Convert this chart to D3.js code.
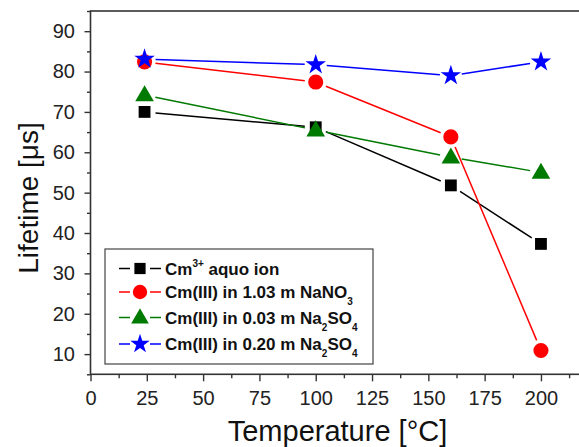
<!DOCTYPE html>
<html><head><meta charset="utf-8">
<script src="https://cdn.jsdelivr.net/npm/d3@7"></script>
<style>body{margin:0;background:#fff}svg{display:block}text{font-family:Arial,"Liberation Sans",sans-serif}</style>
</head><body><svg id="c" width="579" height="447"></svg>
<script>
const temps = [24, 100, 160, 200];
const aquo = [70.0, 66.2, 51.8, 37.3];
const nano3 = [82.4, 77.4, 63.8, 10.9];
const na2so4_003 = [74.2, 65.5, 58.8, 55.0];
const na2so4_020 = [83.1, 81.7, 79.0, 82.4];
const xTicks = [0, 25, 50, 75, 100, 125, 150, 175, 200];
const yTicks = [10, 20, 30, 40, 50, 60, 70, 80, 90];

const svg = d3.select("#c");
const x = d3.scaleLinear().domain([0, 220]).range([90.5, 586]);
const y = d3.scaleLinear().domain([5, 95]).range([374.3, 11]);

const series = [
  {vals: aquo, color: "#000000", sym: d3.symbolSquare, size: 140},
  {vals: nano3, color: "#ff0000", sym: d3.symbolCircle, size: 180},
  {vals: na2so4_003, color: "#007a00", sym: d3.symbolTriangle, size: 150},
  {vals: na2so4_020, color: "#0000ff", sym: d3.symbolStar, size: 130}
];

// frame
svg.append("rect").attr("x", x(0)).attr("y", y(95)).attr("width", x(220) - x(0)).attr("height", y(5) - y(95))
  .attr("fill", "none").attr("stroke", "#333").attr("stroke-width", 1.6);

// axes
const xAx = svg.append("g").attr("transform", `translate(0,${y(5)})`)
  .call(d3.axisBottom(x).tickValues(xTicks).tickSize(7).tickPadding(10).tickFormat(d3.format("d")));
const xMinor = svg.append("g").attr("transform", `translate(0,${y(5)})`)
  .call(d3.axisBottom(x).tickValues(d3.range(12.5, 220, 25)).tickSize(4).tickFormat(""));
const yAx = svg.append("g").attr("transform", `translate(${x(0)},0)`)
  .call(d3.axisLeft(y).tickValues(yTicks).tickSize(6).tickPadding(9.5).tickFormat(d3.format("d")));
const yMinor = svg.append("g").attr("transform", `translate(${x(0)},0)`)
  .call(d3.axisLeft(y).tickValues(d3.range(5, 95.1, 10)).tickSize(3.5).tickFormat(""));
[xAx, xMinor, yAx, yMinor].forEach(g => {
  g.select(".domain").remove();
  g.selectAll("line").attr("stroke", "#333").attr("stroke-width", 1.4);
  g.selectAll("text").attr("font-size", 20).attr("fill", "#222");
});

// axis titles
svg.append("text").attr("x", 337.5).attr("y", 441).attr("text-anchor", "middle")
  .attr("font-size", 29).attr("fill", "#111").text("Temperature [°C]");
svg.append("text").attr("transform", "translate(37.5,198) rotate(-90)").attr("text-anchor", "middle")
  .attr("font-size", 28).attr("fill", "#111").text("Lifetime [μs]");

// lines with gaps
const gap = 11;
series.forEach(s => {
  const pts = temps.map((t, i) => [x(t), y(s.vals[i])]);
  for (let i = 0; i < pts.length - 1; i++) {
    const [x1, y1] = pts[i], [x2, y2] = pts[i + 1];
    const dx = x2 - x1, dy = y2 - y1, L = Math.hypot(dx, dy);
    if (L <= 2 * gap) continue;
    const ux = dx / L, uy = dy / L;
    svg.append("line").attr("x1", x1 + ux * gap).attr("y1", y1 + uy * gap)
      .attr("x2", x2 - ux * gap).attr("y2", y2 - uy * gap)
      .attr("stroke", s.color).attr("stroke-width", 1.5);
  }
});
// markers
series.forEach(s => {
  svg.selectAll(null).data(temps).enter().append("path")
    .attr("d", d3.symbol().type(s.sym).size(s.size))
    .attr("transform", (t, i) => `translate(${x(t)},${y(s.vals[i]) + (s.sym === d3.symbolTriangle ? 1 : 0)})`)
    .attr("fill", s.color);
});

// legend
svg.append("rect").attr("x", 105).attr("y", 249).attr("width", 268).attr("height", 115)
  .attr("fill", "#fff").attr("stroke", "#444").attr("stroke-width", 1.2);
const rowsY = [268.5, 292, 317.5, 344];
const labels = [
  [["Cm", 0], ["3+", -1], [" aquo ion", 0]],
  [["Cm(III) in 1.03 m NaNO", 0], ["3", 1]],
  [["Cm(III) in 0.03 m Na", 0], ["2", 1], ["SO", 0], ["4", 1]],
  [["Cm(III) in 0.20 m Na", 0], ["2", 1], ["SO", 0], ["4", 1]]
];
series.forEach((s, i) => {
  const cy = rowsY[i];
  svg.append("line").attr("x1", 119).attr("x2", 130).attr("y1", cy).attr("y2", cy).attr("stroke", s.color).attr("stroke-width", 1.5);
  svg.append("line").attr("x1", 150).attr("x2", 161).attr("y1", cy).attr("y2", cy).attr("stroke", s.color).attr("stroke-width", 1.5);
  svg.append("path").attr("d", d3.symbol().type(s.sym).size(s.size * 0.9))
    .attr("transform", `translate(140,${cy + (s.sym === d3.symbolTriangle ? 1 : 0)})`).attr("fill", s.color);
  const t = svg.append("text").attr("x", 165).attr("y", cy + 6).attr("font-size", 17).attr("font-weight", "bold").attr("fill", "#111");
  let prev = 0;
  labels[i].forEach(([str, kind]) => {
    const target = kind === -1 ? -8 : kind === 1 ? 7 : 0;
    const ts = t.append("tspan").text(str).attr("dy", target - prev);
    if (kind !== 0) ts.attr("font-size", 10);
    prev = target;
  });
});
</script></body></html>
